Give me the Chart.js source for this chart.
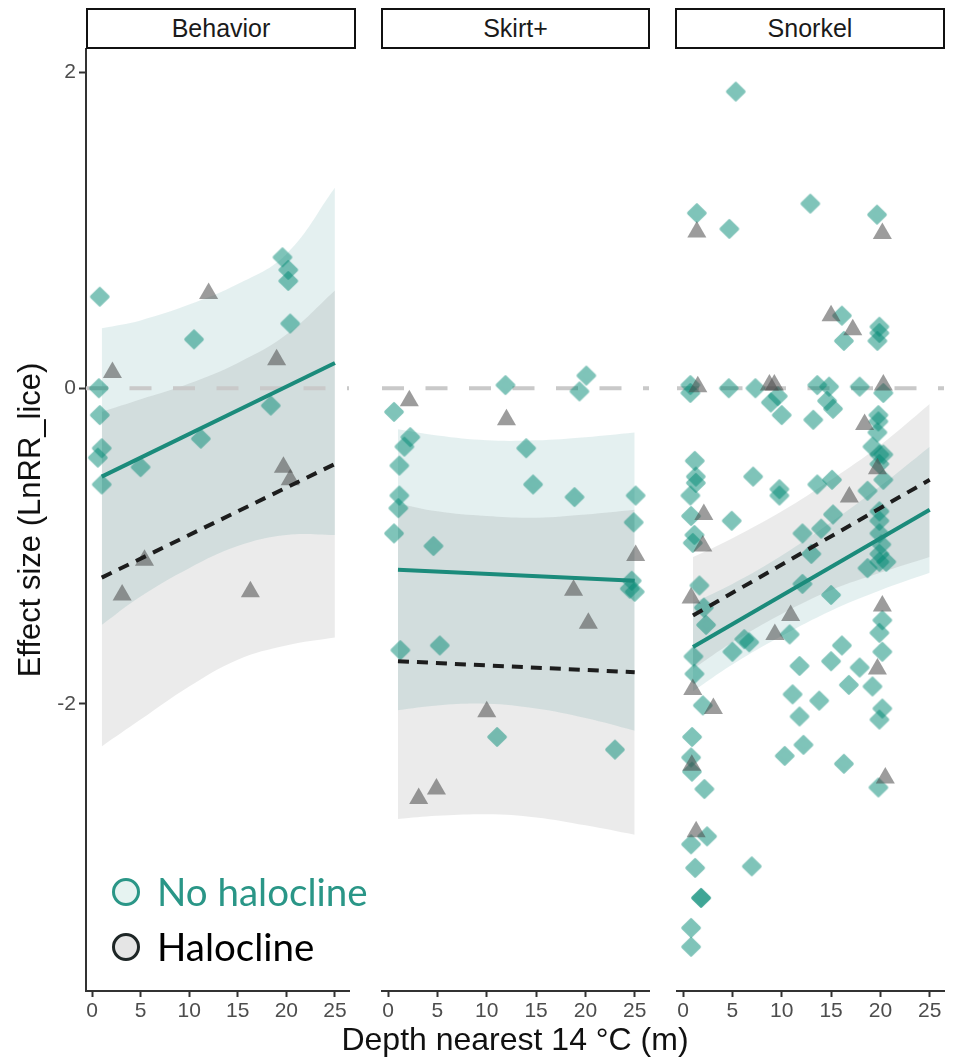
<!DOCTYPE html>
<html><head><meta charset="utf-8">
<script src="https://cdn.jsdelivr.net/npm/chart.js@4.4.1/dist/chart.umd.min.js"></script>
<style>
html,body{margin:0;padding:0;background:#fff;}
#wrap{position:relative;width:962px;height:1062px;overflow:hidden;font-family:"Liberation Sans",Arial,sans-serif;}
canvas{position:absolute;top:0;}
.strip{position:absolute;top:8px;height:37px;border:2px solid #111;text-align:center;font-size:25px;line-height:37px;color:#1a1a1a;background:#fff;}
.leg{position:absolute;font-family:Lato,"Open Sans",sans-serif;font-size:38.5px;line-height:44px;white-space:nowrap;}
.dot{position:absolute;width:22px;height:22px;border-radius:50%;border:3px solid;}
#xtitle{position:absolute;left:215px;width:600px;top:1020px;text-align:center;font-size:32px;line-height:38px;color:#111;white-space:nowrap;}
</style></head>
<body>
<div id="wrap">
  <canvas id="c0" width="360" height="1062" style="left:0px"></canvas>
  <canvas id="c1" width="290" height="1062" style="left:371px"></canvas>
  <canvas id="c2" width="290" height="1062" style="left:666px"></canvas>
  <div class="strip" style="left:86px;width:266px">Behavior</div>
  <div class="strip" style="left:381px;width:265px">Skirt+</div>
  <div class="strip" style="left:675px;width:266px">Snorkel</div>
  <div class="dot" style="left:112px;top:878px;border-color:#2a9687;background:#e6f3f1"></div>
  <div class="leg" style="left:157px;top:869px;color:#2a9687">No halocline</div>
  <div class="dot" style="left:112px;top:933px;border-color:#1e2626;background:#e5e5e5"></div>
  <div class="leg" style="left:157px;top:924px;color:#000">Halocline</div>
  <div id="xtitle">Depth nearest 14 °C (m)</div>
</div>
<script>
// ---- tick labels / categories ----
const panelNames = ['Behavior', 'Skirt+', 'Snorkel'];
const xTicks = [0, 5, 10, 15, 20, 25];
const yTicks = [-2, 0, 2];
const XMIN = -0.62, XMAX = 26.45, YMIN = -3.82, YMAX = 2.15;

// ---- fitted lines (x = 1 .. 25) ----
const lineX = [1, 25];
const behTealLine = [-0.56, 0.16];
const behHaloLine = [-1.20, -0.48];
const skiTealLine = [-1.15, -1.22];
const skiHaloLine = [-1.73, -1.80];
const snoTealLine = [-1.64, -0.77];
const snoHaloLine = [-1.44, -0.58];

// ---- confidence ribbons ----
const ribbonX = [1, 5, 10, 15, 20, 25];
const behTealUp = [0.38, 0.43, 0.53, 0.66, 0.85, 1.27];
const behTealLo = [-1.50, -1.32, -1.14, -1.00, -0.93, -0.93];
const behHaloUp = [-0.15, -0.07, 0.03, 0.16, 0.34, 0.62];
const behHaloLo = [-2.27, -2.10, -1.89, -1.72, -1.63, -1.58];
const skiTealUp = [-0.26, -0.30, -0.33, -0.33, -0.31, -0.28];
const skiTealLo = [-2.04, -2.01, -2.00, -2.03, -2.09, -2.17];
const skiHaloUp = [-0.73, -0.78, -0.81, -0.82, -0.80, -0.77];
const skiHaloLo = [-2.73, -2.71, -2.70, -2.72, -2.77, -2.83];
const snoTealUp = [-1.36, -1.24, -1.06, -0.85, -0.62, -0.37];
const snoTealLo = [-1.92, -1.75, -1.57, -1.41, -1.28, -1.17];
const snoHaloUp = [-1.07, -0.95, -0.78, -0.58, -0.36, -0.10];
const snoHaloLo = [-1.78, -1.61, -1.43, -1.28, -1.17, -1.07];

// ---- observations: No halocline ----
const behTealX = [0.8, 19.6, 20.2, 20.2, 20.4, 10.5, 0.7, 0.8, 1.0, 0.6, 5.0, 1.0, 11.2, 18.4];
const behTealY = [0.58, 0.83, 0.75, 0.68, 0.41, 0.31, 0.00, -0.17, -0.38, -0.44, -0.50, -0.61, -0.32, -0.11];
const skiTealX = [11.9, 20.1, 19.4, 0.6, 2.25, 1.65, 1.14, 14.0, 14.7, 1.14, 1.04, 18.9, 25.1, 24.9, 0.6, 4.6, 24.7, 24.5, 25.0, 1.24, 5.24, 11.05, 23.0];
const skiTealY = [0.02, 0.08, -0.02, -0.15, -0.31, -0.37, -0.49, -0.38, -0.61, -0.68, -0.76, -0.69, -0.68, -0.85, -0.92, -1.00, -1.22, -1.27, -1.29, -1.66, -1.63, -2.21, -2.29];
const snoTealX = [5.34, 12.9, 1.39, 4.69, 19.66, 16.1, 16.3, 19.9, 19.9, 19.7,
  0.74, 0.74, 4.63, 7.33, 8.9, 9.6, 10.0, 13.6, 14.8, 14.6,
  15.2, 13.2, 17.9, 20.3, 19.8, 19.8, 19.7, 19.2, 19.9, 20.3,
  19.9, 20.3, 18.7, 1.18, 1.29, 1.29, 0.74, 7.1, 9.76, 9.76,
  13.6, 15.1, 19.9, 19.9, 0.81, 4.93, 15.2, 1.15, 0.98, 12.1,
  14.0, 19.9, 20.1, 13.0, 19.9, 19.9, 20.6, 18.7, 12.1, 1.65,
  2.1, 15.0, 2.33, 10.8, 20.2, 19.9, 6.7, 6.2, 5.0, 1.05,
  1.15, 16.1, 15.0, 11.8, 17.9, 20.2, 16.8, 19.2, 11.1, 13.8,
  2.0, 11.8, 20.2, 19.9, 0.91, 12.2, 10.3, 0.81, 0.9, 16.3,
  2.16, 19.8, 2.43, 0.81, 6.96, 1.22, 1.82, 1.82, 0.81, 0.81];
const snoTealY = [1.88, 1.17, 1.11, 1.01, 1.10, 0.46, 0.30, 0.39, 0.35, 0.30,
  0.02, -0.03, 0.00, 0.00, -0.09, -0.05, -0.17, 0.02, 0.01, -0.08,
  -0.13, -0.20, 0.01, -0.03, -0.17, -0.21, -0.28, -0.37, -0.42, -0.42,
  -0.48, -0.58, -0.65, -0.46, -0.56, -0.60, -0.68, -0.56, -0.64, -0.68,
  -0.61, -0.58, -0.78, -0.84, -0.81, -0.84, -0.80, -0.93, -0.98, -0.92,
  -0.89, -0.92, -0.99, -1.05, -1.05, -1.10, -1.10, -1.14, -1.24, -1.25,
  -1.39, -1.31, -1.50, -1.56, -1.47, -1.55, -1.61, -1.59, -1.67, -1.70,
  -1.81, -1.63, -1.73, -1.76, -1.77, -1.67, -1.88, -1.89, -1.94, -1.98,
  -2.01, -2.08, -2.03, -2.10, -2.21, -2.26, -2.33, -2.34, -2.43, -2.38,
  -2.54, -2.53, -2.84, -2.89, -3.03, -3.04, -3.23, -3.23, -3.42, -3.54];

// ---- observations: Halocline ----
const behHaloX = [12.0, 19.0, 2.1, 19.7, 20.4, 5.4, 3.1, 16.3];
const behHaloY = [0.60, 0.18, 0.10, -0.50, -0.58, -1.09, -1.31, -1.29];
const skiHaloX = [2.15, 12.0, 25.1, 18.8, 20.3, 10.0, 4.9, 3.1];
const skiHaloY = [-0.08, -0.20, -1.06, -1.28, -1.49, -2.05, -2.54, -2.60];
const snoHaloX = [1.39, 20.2, 15.0, 17.2, 1.49, 8.75, 9.25, 20.3, 18.4, 19.7, 16.85, 2.1, 2.0, 0.81, 10.9, 9.3, 20.2, 19.7, 0.98, 3.07, 0.88, 20.5, 1.32];
const snoHaloY = [0.99, 0.98, 0.46, 0.37, 0.01, 0.02, 0.02, 0.02, -0.23, -0.51, -0.69, -0.80, -1.00, -1.33, -1.44, -1.56, -1.38, -1.78, -1.91, -2.03, -2.39, -2.47, -2.81];

const zeroX = [XMIN, XMAX];
const zeroY = [0, 0];

function pts(xs, ys) { return xs.map((x, i) => ({ x: x, y: ys[i] })); }

const TEAL_LINE = '#1b8b7b';
const HALO_LINE = '#1d1d1d';
const FONT = '"Liberation Sans", Arial, sans-serif';

// rounded, semi-transparent diamond marker (pointStyle image)
function diamondSprite() {
  const s = 22, h = s / 2, r = 8.2;
  const a = document.createElement('canvas'); a.width = s; a.height = s;
  const ca = a.getContext('2d');
  ca.fillStyle = 'rgb(0,137,117)'; ca.strokeStyle = 'rgb(0,137,117)';
  ca.lineJoin = 'round'; ca.lineWidth = 3.2;
  ca.beginPath(); ca.moveTo(h, h - r); ca.lineTo(h + r, h); ca.lineTo(h, h + r); ca.lineTo(h - r, h); ca.closePath();
  ca.fill(); ca.stroke();
  const b = document.createElement('canvas'); b.width = s; b.height = s;
  const cb = b.getContext('2d'); cb.globalAlpha = 0.5; cb.drawImage(a, 0, 0);
  return b;
}
const DIAMOND = diamondSprite();

function makePanel(id, d, first, padL, padR) {
  const band = (xs, ys, ord, fillTarget, bg) => ({
    data: pts(xs, ys), showLine: true, borderWidth: 0, borderColor: 'transparent',
    pointRadius: 0, tension: 0.4, order: ord,
    fill: fillTarget === null ? false : fillTarget, backgroundColor: bg || 'transparent'
  });
  const datasets = [
    { data: pts(lineX, d.haloLine), showLine: true, borderColor: HALO_LINE, borderWidth: 4, borderDash: [11, 8], pointRadius: 0, order: 0, fill: false },
    { data: pts(lineX, d.tealLine), showLine: true, borderColor: TEAL_LINE, borderWidth: 4, pointRadius: 0, order: 1, fill: false },
    { data: pts(d.haloX, d.haloY), showLine: false, pointStyle: 'triangle', pointRadius: 11, pointBackgroundColor: 'rgba(75,75,75,0.55)', pointBorderWidth: 0, pointBorderColor: 'transparent', order: 2 },
    { data: pts(d.tealX, d.tealY), showLine: false, pointStyle: DIAMOND, pointRadius: 10, pointBorderWidth: 0, order: 3 },
    { data: pts(zeroX, zeroY), showLine: true, borderColor: '#c9c9c9', borderWidth: 4, borderDash: [22, 21.5], pointRadius: 0, order: 4, fill: false },
    band(ribbonX, d.haloLo, 5, null),
    band(ribbonX, d.haloUp, 6, 5, 'rgba(0,0,0,0.08)'),
    band(ribbonX, d.tealLo, 7, null),
    band(ribbonX, d.tealUp, 8, 7, 'rgba(75,155,155,0.15)')
  ];
  return new Chart(document.getElementById(id), {
    type: 'line',
    data: { datasets: datasets },
    options: {
      responsive: false, animation: false, events: [],
      layout: { padding: { left: padL, right: padR, top: 49, bottom: 0 } },
      plugins: { legend: { display: false }, tooltip: { enabled: false } },
      scales: {
        x: {
          type: 'linear', min: XMIN, max: XMAX,
          afterBuildTicks: s => { s.ticks = xTicks.map(v => ({ value: v })); },
          afterFit: s => { s.height = 71; },
          grid: { drawOnChartArea: false, drawTicks: true, tickLength: 6, tickWidth: 2, tickColor: '#333' },
          border: { display: true, color: '#333', width: 2 },
          ticks: { font: { size: 21, family: FONT }, color: '#4d4d4d', padding: 2, maxRotation: 0, autoSkip: false }
        },
        y: {
          type: 'linear', display: first, min: YMIN, max: YMAX,
          afterBuildTicks: s => { s.ticks = yTicks.map(v => ({ value: v })); },
          afterFit: s => { s.width = first ? 86 : 0; },
          grid: { drawOnChartArea: false, drawTicks: true, tickLength: 7, tickWidth: 2, tickColor: '#333' },
          border: { display: true, color: '#333', width: 2 },
          ticks: { font: { size: 21, family: FONT }, color: '#4d4d4d', padding: 3 },
          title: { display: true, text: 'Effect size (LnRR_lice)', font: { size: 31, family: FONT }, color: '#111', padding: { top: 13, bottom: 0 } }
        }
      }
    }
  });
}

makePanel('c0', { tealLine: behTealLine, haloLine: behHaloLine, tealUp: behTealUp, tealLo: behTealLo, haloUp: behHaloUp, haloLo: behHaloLo, tealX: behTealX, tealY: behTealY, haloX: behHaloX, haloY: behHaloY }, true, 0, 6);
makePanel('c1', { tealLine: skiTealLine, haloLine: skiHaloLine, tealUp: skiTealUp, tealLo: skiTealLo, haloUp: skiHaloUp, haloLo: skiHaloLo, tealX: skiTealX, tealY: skiTealY, haloX: skiHaloX, haloY: skiHaloY }, false, 10, 12);
makePanel('c2', { tealLine: snoTealLine, haloLine: snoHaloLine, tealUp: snoTealUp, tealLo: snoTealLo, haloUp: snoHaloUp, haloLo: snoHaloLo, tealX: snoTealX, tealY: snoTealY, haloX: snoHaloX, haloY: snoHaloY }, false, 10, 12);
</script>
</body></html>
